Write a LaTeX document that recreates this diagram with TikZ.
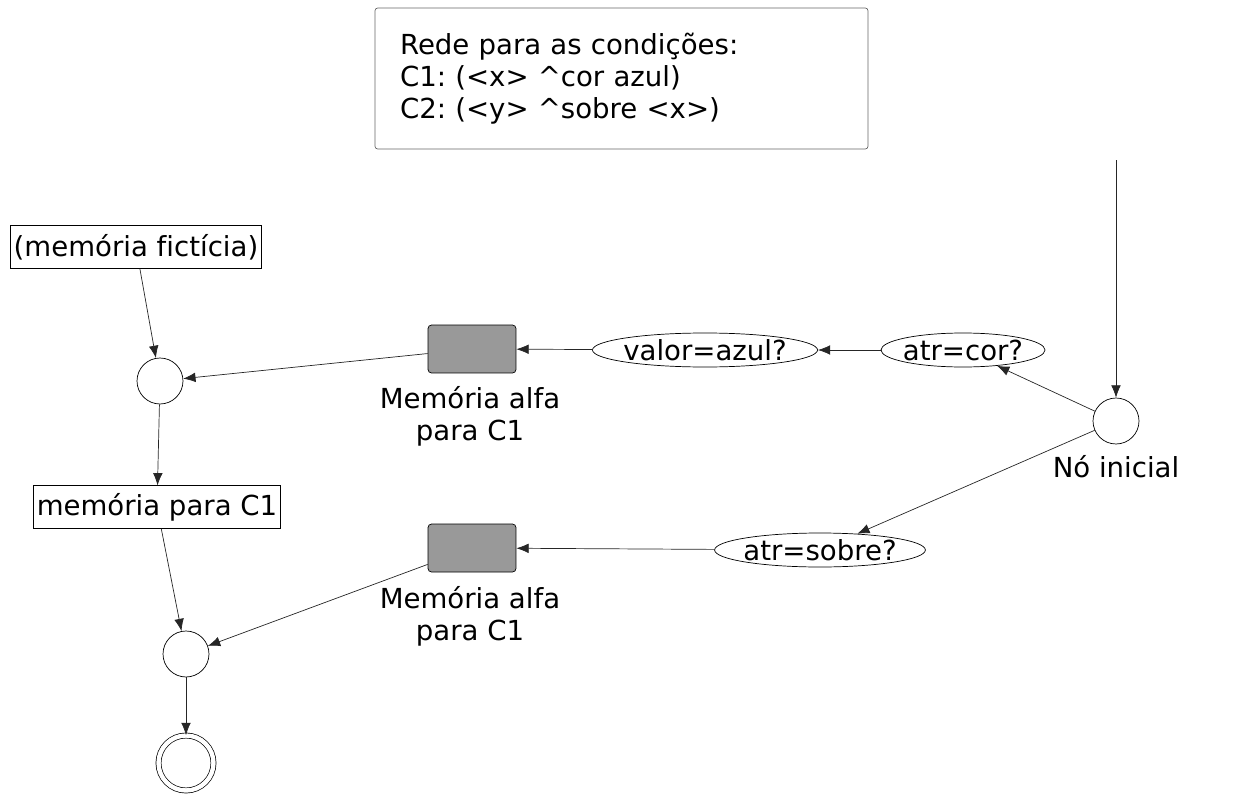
\documentclass[tikz,border=0pt]{standalone}
\usepackage{fontspec}
\setmainfont{DejaVu Sans}[Ligatures=NoCommon]
\usetikzlibrary{arrows.meta,positioning,shapes.geometric}
\frenchspacing

\begin{document}
\begin{tikzpicture}[
  x=0.02cm, y=-0.02cm,
  every node/.style={font=\fontsize{15.7}{18.2}\selectfont},
  test/.style={draw, ellipse, inner xsep=-1.2pt, inner ysep=0pt, minimum height=0.68cm},
  mem/.style={draw, minimum height=0.85cm, inner xsep=2pt},
  alfa/.style={draw, fill=black!40, rounded corners=2pt, minimum width=1.76cm,
               minimum height=0.96cm},
  junc/.style={draw, circle, minimum size=0.92cm, inner sep=0pt},
  arr/.style={-{Latex[length=7pt,width=5.5pt]}, draw=black!85}
]
\useasboundingbox (0,0) rectangle (1234,794);

% caption box
\node[draw=black!60, rounded corners=1.5pt, minimum width=9.86cm, minimum height=2.82cm,
      text width=8.86cm, inner xsep=0.5cm, align=left] (cap) at (621.5,78.5)
  {Rede para as condições:\\C1: (<x> \^{}cor azul)\\C2: (<y> \^{}sobre <x>)};

% alpha part
\coordinate (entry) at (1116,160);
\node[junc] (ini) at (1116,421) {};
\node (inilbl) at (1116,467) {Nó inicial};
\node[test] (cor) at (963,350) {atr=cor?};
\node[test] (azul) at (705,350) {valor=azul?};
\node[test] (sobre) at (820,550) {atr=sobre?};
\node[alfa] (mem1) at (472,349) {};
\node[align=center] (lbl1) at (470,416) {Memória alfa\\para C1};
\node[alfa] (mem2) at (472,548) {};
\node[align=center] (lbl2) at (470,616) {Memória alfa\\para C1};

% beta part
\node[mem] (dummy) at (136,247) {(memória fictícia)};
\node[junc] (join1) at (160,381) {};
\node[mem] (memc1) at (157,507) {memória para C1};
\node[junc] (join2) at (186,654) {};
\node[draw, circle, double, double distance=2.5pt, minimum size=1.1cm] (fim) at (186,763) {};

\draw[arr] (entry)--(ini);
\draw[arr] (ini)--(cor);
\draw[arr] (ini)--(sobre);
\draw[arr] (cor)--(azul);
\draw[arr] (azul)--(mem1);
\draw[arr] (sobre)--(mem2);
\draw[arr] (mem1)--(join1);
\draw[arr] (dummy)--(join1);
\draw[arr] (join1)--(memc1);
\draw[arr] (memc1)--(join2);
\draw[arr] (mem2)--(join2);
\draw[arr] (join2)--(fim);
\end{tikzpicture}
\end{document}
